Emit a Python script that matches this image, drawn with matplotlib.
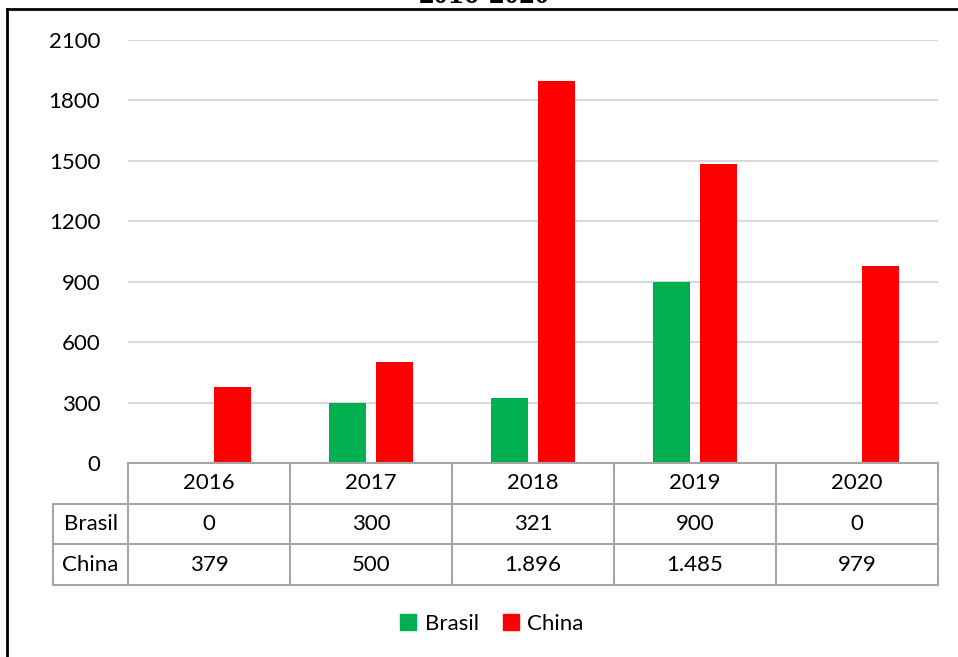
import matplotlib.pyplot as plt
import matplotlib
from matplotlib.lines import Line2D
from matplotlib.patches import Patch
import numpy as np

matplotlib.rcParams['font.family'] = ['Lato', 'DejaVu Sans']

# dados do gráfico
anos = ['2016', '2017', '2018', '2019', '2020']
brasil = [0, 300, 321, 900, 0]
china = [379, 500, 1896, 1485, 979]
brasil_txt = ['0', '300', '321', '900', '0']
china_txt = ['379', '500', '1.896', '1.485', '979']
y_ticks = [0, 300, 600, 900, 1200, 1500, 1800, 2100]

verde = '#00b050'
vermelho = '#ff0000'
cinza = '#a6a6a6'
fs = 16

W, H = 958, 657
fig = plt.figure(figsize=(W / 100, H / 100), dpi=100)

def fx(px):
    return px / W

def fy(py):
    return 1 - py / H

# === área das barras ===
ax = fig.add_axes([fx(128), fy(463), fx(938) - fx(128), fy(40) - fy(463)])
x = np.arange(len(anos))
larg = 0.225
ax.bar(x - 0.145, brasil, larg, color=verde, zorder=3)
ax.bar(x + 0.145, china, larg, color=vermelho, zorder=3)
ax.set_xlim(-0.5, len(anos) - 0.5)
ax.set_ylim(0, 2100)
ax.set_yticks(y_ticks)
ax.set_yticklabels([str(v) for v in y_ticks], fontsize=fs)
ax.tick_params(axis='y', length=0, pad=20)
ax.set_xticks([])
ax.grid(axis='y', color='#d9d9d9', linewidth=1.5, zorder=0)
for s in ax.spines.values():
    s.set_visible(False)

# === tabela de dados ===
tb = fig.add_axes([fx(128), fy(585), fx(938) - fx(128), fy(463) - fy(585)])
tb.set_xlim(-0.5, len(anos) - 0.5)
tb.set_ylim(3, 0)
tb.axis('off')
lab_x = -0.5 - 75 / 162.0
kw = dict(color=cinza, linewidth=1.5, clip_on=False)
tb.plot([-0.5, len(anos) - 0.5], [0, 0], **kw)
tb.plot([lab_x, len(anos) - 0.5], [1, 1], **kw)
tb.plot([lab_x, len(anos) - 0.5], [2, 2], **kw)
tb.plot([lab_x, len(anos) - 0.5], [3, 3], **kw)
tb.plot([lab_x, lab_x], [1, 3], **kw)
for i in range(len(anos) + 1):
    tb.plot([i - 0.5, i - 0.5], [0, 3], **kw)
for i, a in enumerate(anos):
    tb.text(i, 0.5, a, ha='center', va='center', fontsize=fs)
    tb.text(i, 1.5, brasil_txt[i], ha='center', va='center', fontsize=fs)
    tb.text(i, 2.5, china_txt[i], ha='center', va='center', fontsize=fs)
tb.text((lab_x - 0.5) / 2, 1.5, 'Brasil', ha='center', va='center', fontsize=fs)
tb.text((lab_x - 0.5) / 2, 2.5, 'China', ha='center', va='center', fontsize=fs)

# === legenda ===
handles = [Patch(color=verde, label='Brasil'), Patch(color=vermelho, label='China')]
fig.legend(handles=handles, loc='center', bbox_to_anchor=(fx(492), fy(624)), ncol=2,
           frameon=False, fontsize=fs, handlelength=0.7, handleheight=0.7,
           handletextpad=0.4, columnspacing=1.1)

# === título (cortado no topo) e moldura ===
fig.text(fx(485), fy(3), '2016-2020', ha='center', va='baseline',
         fontsize=22, fontweight='bold', family='Liberation Serif')
fig.add_artist(Line2D([fx(7), fx(7)], [fy(9), 0], color='black', linewidth=2))
fig.add_artist(Line2D([fx(7), 1], [fy(9), fy(9)], color='black', linewidth=2))

fig.savefig('out.png', dpi=100)
